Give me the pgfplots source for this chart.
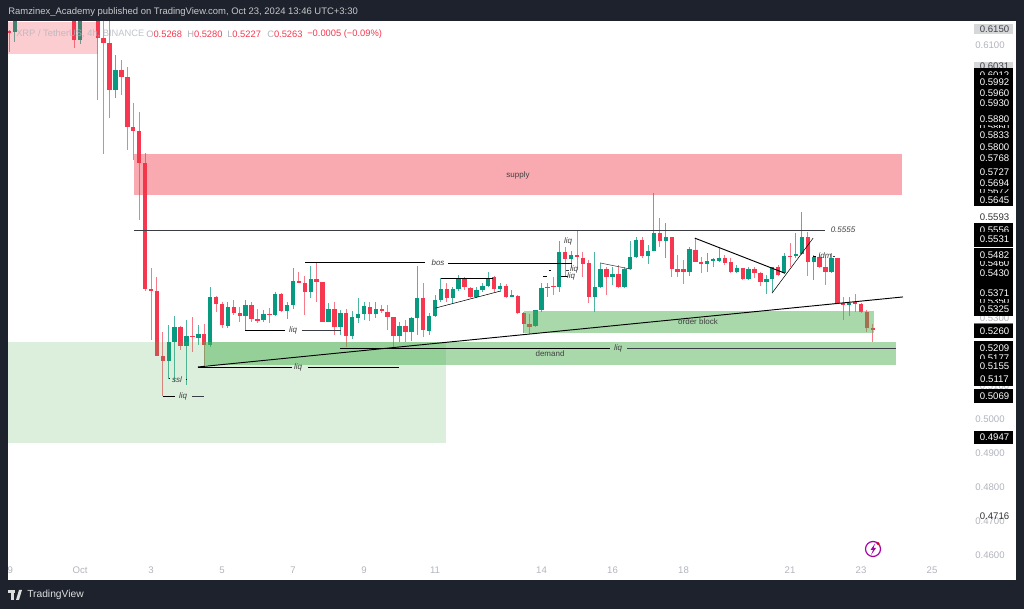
\documentclass[border=0pt]{standalone}
\usepackage{fontspec}
\setmainfont{Liberation Sans}
\usepackage{pgfplots}
\usepackage{pgfplotstable}
\pgfplotsset{compat=1.18}
\definecolor{frame}{HTML}{1E222D}
\definecolor{cred}{HTML}{F7374F}
\definecolor{cgreen}{HTML}{089981}
\definecolor{wred}{HTML}{F77A88}
\definecolor{wgreen}{HTML}{4FB5A3}
\definecolor{zred}{HTML}{F23645}
\definecolor{zgreen}{HTML}{4CAF50}
\definecolor{grayt}{HTML}{B2B5BE}
\definecolor{ln}{HTML}{3A3D45}
\pgfplotstableread{
n o h l c
-6 .6141 .6144 .6079 .6135
5 .6300 .6350 .6091 .6114
9 .6300 .6350 .5938 .6120
10 .6120 .6350 .5779 .6106
11 .6106 .6350 .5885 .5967
13 .6026 .6056 .5953 .6006
14 .6006 .6035 .5791 .5859
15 .5859 .5929 .5762 .5847
16 .5847 .5903 .5585 .5753
17 .5753 .5782 .5376 .5382
18 .5382 .5444 .5232 .5376
19 .5376 .5417 .5185 .5185
20 .5185 .5256 .5068 .5170
23 .5270 .5273 .5203 .5215
25 .5244 .5300 .5197 .5241
27 .5250 .5279 .5156 .5218
29 .5359 .5362 .5315 .5338
30 .5338 .5344 .5267 .5276
32 .5329 .5350 .5306 .5312
33 .5312 .5329 .5285 .5303
35 .5335 .5344 .5285 .5294
36 .5294 .5323 .5282 .5288
38 .5309 .5326 .5282 .5306
40 .5367 .5370 .5315 .5317
43 .5406 .5432 .5400 .5400
44 .5400 .5420 .5306 .5373
46 .5412 .5459 .5344 .5403
47 .5403 .5403 .5285 .5285
49 .5323 .5344 .5247 .5270
51 .5312 .5323 .5212 .5244
55 .5329 .5344 .5288 .5309
57 .5323 .5335 .5312 .5317
58 .5315 .5335 .5262 .5300
59 .5300 .5300 .5209 .5244
61 .5273 .5291 .5226 .5256
64 .5356 .5400 .5241 .5262
68 .5382 .5400 .5344 .5356
71 .5415 .5417 .5379 .5388
72 .5385 .5388 .5356 .5359
76 .5417 .5420 .5373 .5382
78 .5391 .5397 .5356 .5359
80 .5362 .5365 .5309 .5312
81 .5312 .5315 .5253 .5279
82 .5279 .5309 .5250 .5270
86 .5391 .5417 .5365 .5388
88 .5491 .5506 .5417 .5470
90 .5482 .5556 .5438 .5476
91 .5473 .5491 .5417 .5456
92 .5459 .5467 .5341 .5359
95 .5441 .5447 .5365 .5417
97 .5426 .5453 .5385 .5388
101 .5526 .5535 .5473 .5479
104 .5547 .5591 .5506 .5523
106 .5535 .5535 .5417 .5441
107 .5441 .5482 .5417 .5432
108 .5441 .5467 .5397 .5432
110 .5497 .5532 .5462 .5462
111 .5462 .5476 .5429 .5456
115 .5473 .5482 .5453 .5459
116 .5462 .5473 .5429 .5432
118 .5444 .5444 .5409 .5412
120 .5441 .5447 .5415 .5429
121 .5429 .5432 .5391 .5403
124 .5447 .5453 .5420 .5423
126 .5479 .5517 .5447 .5476
129 .5535 .5550 .5420 .5462
131 .5476 .5488 .5444 .5447
132 .5447 .5476 .5394 .5432
134 .5473 .5473 .5341 .5341
135 .5341 .5359 .5291 .5335
137 .5344 .5367 .5315 .5338
138 .5338 .5341 .5312 .5315
139 .5315 .5320 .5256 .5267
140 .5268 .5280 .5227 .5263
}\redt
\pgfplotstableread{
n o h l c
-5 .6138 .6350 .6109 .6300
6 .6114 .6350 .6103 .6300
12 .5967 .6070 .5944 .6026
21 .5170 .5276 .5118 .5226
22 .5226 .5303 .5109 .5270
24 .5215 .5291 .5100 .5244
26 .5238 .5276 .5218 .5250
28 .5218 .5388 .5212 .5359
31 .5273 .5344 .5267 .5329
34 .5303 .5350 .5262 .5335
37 .5291 .5320 .5285 .5309
39 .5306 .5373 .5303 .5367
41 .5317 .5344 .5294 .5335
42 .5335 .5444 .5323 .5406
45 .5373 .5450 .5356 .5412
48 .5285 .5341 .5285 .5323
50 .5270 .5320 .5247 .5312
52 .5244 .5317 .5235 .5300
53 .5297 .5356 .5282 .5309
54 .5309 .5344 .5291 .5332
56 .5309 .5344 .5297 .5323
60 .5244 .5285 .5226 .5273
62 .5256 .5300 .5229 .5297
63 .5297 .5450 .5247 .5356
65 .5259 .5312 .5247 .5303
66 .5303 .5365 .5300 .5350
67 .5350 .5415 .5344 .5382
69 .5356 .5388 .5341 .5382
70 .5382 .5423 .5376 .5415
73 .5359 .5388 .5356 .5379
74 .5379 .5400 .5373 .5391
75 .5391 .5432 .5388 .5415
77 .5382 .5400 .5373 .5391
79 .5359 .5379 .5359 .5365
83 .5273 .5320 .5270 .5320
84 .5320 .5400 .5315 .5385
85 .5385 .5400 .5359 .5388
87 .5388 .5523 .5373 .5491
89 .5470 .5494 .5444 .5482
93 .5359 .5491 .5315 .5388
94 .5388 .5459 .5385 .5441
96 .5417 .5447 .5394 .5426
98 .5388 .5447 .5385 .5441
99 .5441 .5523 .5438 .5476
100 .5476 .5535 .5473 .5526
102 .5479 .5512 .5456 .5494
103 .5494 .5665 .5494 .5547
105 .5523 .5576 .5473 .5535
109 .5432 .5506 .5420 .5500
112 .5456 .5488 .5432 .5465
113 .5465 .5473 .5447 .5470
114 .5465 .5503 .5462 .5473
117 .5432 .5453 .5429 .5444
119 .5412 .5447 .5409 .5441
122 .5403 .5423 .5367 .5412
123 .5412 .5447 .5373 .5447
125 .5429 .5488 .5426 .5479
127 .5479 .5547 .5473 .5485
128 .5485 .5609 .5482 .5535
130 .5462 .5482 .5409 .5476
133 .5432 .5488 .5429 .5473
136 .5335 .5359 .5303 .5341
}\greent
\newcommand\pf{\fontsize{7.2}{8}\selectfont}
\newcommand\lf{\fontsize{6}{7}\selectfont}
% black price tag, text white, in pixel coordinates
\newcommand\pb[2]{\fill[black] (974,#2-6.5) rectangle (1013,#2+6.5);
  \node[text=white,font=\pf,inner sep=0pt] at (994.5,#2) {#1};}
\newcommand\il[3]{\node[text=black!75,font=\lf\itshape,inner sep=0pt] at (#1,#2) {#3};}
\newcommand\rl[3]{\node[text=black!75,font=\lf,inner sep=0pt] at (#1,#2) {#3};}
\begin{document}
\begin{tikzpicture}
\useasboundingbox (-6pt,-21.75pt) rectangle (762pt,435pt);
\fill[frame] (-6pt,-21.75pt) rectangle (762pt,435pt);
\begin{axis}[
  scale only axis, width=756pt, height=418.875pt,
  xmin=-6.168, xmax=164.19, ymin=0.45265, ymax=0.61691,
  axis background/.style={fill=white},
  axis line style={draw=none}, major tick length=0pt,
  xtick={-5.8,6,18,30,42,54,66,84,96,108,126,138,150},
  xticklabels={9,Oct,3,5,7,9,11,14,16,18,21,23,25},
  xticklabel style={anchor=center,yshift=7.5pt,font=\pf,text=grayt},
  ytick={0.61,0.50,0.49,0.48,0.47,0.46},
  yticklabel pos=right,
  yticklabel style={anchor=east,xshift=-5pt,font=\pf,text=grayt,
    /pgf/number format/fixed,/pgf/number format/fixed zerofill,
    /pgf/number format/precision=4,/pgf/number format/assume math mode=true},
  scaled y ticks=false,
  cycle list={{draw=ln,line width=0.7pt,solid,mark=none}},
  clip=true,
]
% wicks
\addplot[draw=none,forget plot,error bars/.cd,y dir=both,y explicit,error mark=none,
  error bar style={draw=wred,line width=0.7pt}]
  table[x=n,y=o,y error plus expr=\thisrow{h}-\thisrow{o},y error minus expr=\thisrow{o}-\thisrow{l}]{\redt};
\addplot[draw=none,forget plot,error bars/.cd,y dir=both,y explicit,error mark=none,
  error bar style={draw=wgreen,line width=0.7pt}]
  table[x=n,y=o,y error plus expr=\thisrow{h}-\thisrow{o},y error minus expr=\thisrow{o}-\thisrow{l}]{\greent};
% bodies
\addplot[draw=none,forget plot,error bars/.cd,y dir=both,y explicit,error mark=none,
  error bar style={draw=cred,line width=3.3pt}]
  table[x=n,y=o,y error plus expr=0,y error minus expr=\thisrow{o}-\thisrow{c}]{\redt};
\addplot[draw=none,forget plot,error bars/.cd,y dir=both,y explicit,error mark=none,
  error bar style={draw=cgreen,line width=3.3pt}]
  table[x=n,y=o,y error plus expr=\thisrow{c}-\thisrow{o},y error minus expr=0]{\greent};
% zones
\addplot[fill=zred,fill opacity=.25,draw=none,forget plot] coordinates {(-6.168,.6169)(9,.6169)(9,.6074)(-6.168,.6074)} -- cycle;
\addplot[fill=zred,fill opacity=.42,draw=none,forget plot] coordinates {(15.13,.5779)(144.9,.5779)(144.9,.5659)(15.13,.5659)} -- cycle;
\addplot[fill=zgreen,fill opacity=.2,draw=none,forget plot] coordinates {(-6.168,.5226)(67.9,.5226)(67.9,.4929)(-6.168,.4929)} -- cycle;
\addplot[fill=zgreen,fill opacity=.48,draw=none,forget plot] coordinates {(27,.5226)(143.9,.5226)(143.9,.5159)(27,.5159)} -- cycle;
\addplot[fill=zgreen,fill opacity=.48,draw=none,forget plot] coordinates {(81,.5318)(140.2,.5318)(140.2,.5253)(81,.5253)} -- cycle;
% lines
\addplot coordinates {(15.13,.5555)(131.9,.5555)};
\addplot coordinates {(44.03,.5459)(64.3,.5459)};
\addplot coordinates {(68.2,.5459)(89.15,.5459)};
\addplot coordinates {(33.9,.5262)(40.65,.5262)};
\addplot coordinates {(43.5,.5262)(50.1,.5262)};
\addplot coordinates {(25.9,.5153)(41.8,.5153)};
\addplot coordinates {(44.5,.5153)(59.9,.5153)};
\addplot coordinates {(20,.5068)(22.05,.5068)};
\addplot coordinates {(24.9,.5068)(27,.5068)};
\addplot coordinates {(21.04,.5118)(21.2,.5118)};
\addplot coordinates {(23.9,.5118)(24.1,.5118)};
\addplot coordinates {(49.94,.5209)(95.6,.5209)};
\addplot coordinates {(98.45,.5209)(143.9,.5209)};
\addplot coordinates {(25.94,.5153)(145.09,.5359)};
\addplot coordinates {(66,.5326)(77,.5376)};
\addplot coordinates {(67,.5415)(75.8,.5415)};
\addplot coordinates {(93.9,.5459)(99,.5441)};
\addplot coordinates {(109.9,.5532)(125.1,.5429)};
\addplot coordinates {(122.95,.5370)(129.9,.5532)};
\addplot coordinates {(85.2,.5438)(85.6,.5438)};
\addplot coordinates {(88.2,.5438)(88.6,.5438)};
\addplot coordinates {(84.3,.5420)(84.9,.5420)};
\addplot coordinates {(87.3,.5420)(88.4,.5420)};
\addplot coordinates {(129.9,.5479)(130.4,.5479)};
\addplot coordinates {(133.2,.5479)(133.6,.5479)};
\end{axis}
\begin{scope}[x=0.75pt,y=-0.75pt,shift={(-6pt,435pt)}]
% header
\node[anchor=west,text=frame!25!white,font=\fontsize{7.1}{9}\selectfont,inner sep=0pt] at (8,12)
  {Ramzinex\_Academy published on TradingView.com, Oct 23, 2024 13:46 UTC+3:30};
\node[anchor=west,text=grayt,font=\fontsize{7}{8}\selectfont,inner sep=0pt,opacity=.8] at (16,34) {XRP / TetherUS, 4h, BINANCE};
\foreach \x/\a/\b in {146/O/0.5268,187/H/0.5280,227/L/0.5227,267/C/0.5263}{
  \node[anchor=west,font=\fontsize{7}{8}\selectfont,inner sep=0pt] at (\x,34) {\textcolor{grayt}{\a}\textcolor{cred}{\b}};}
\node[anchor=west,text=cred,font=\fontsize{7}{8}\selectfont,inner sep=0pt] at (307,34) {−0.0005 (−0.09\%)};
% drawings' text
\rl{518}{175}{supply}
\il{843}{230}{0.5555}
\il{438}{263}{bos}
\il{293}{330}{liq}
\il{298}{367}{liq}
\il{183}{396}{liq}
\il{177}{380}{ssl}
\il{618}{348}{liq}
\il{568}{241}{liq}
\il{574}{269}{liq}
\il{571}{276}{liq}
\il{825}{256}{idm}
\rl{698}{322}{order block}
\rl{550}{354}{demand}
% price scale
\fill[frame!18!white] (974,24) rectangle (1013,34);
\node[text=frame!85!white,font=\pf,inner sep=0pt] at (994.5,29) {0.6150};
\fill[frame!18!white] (974,62) rectangle (1013,69);
\node[text=frame!85!white,font=\pf,inner sep=0pt] at (994.5,66) {0.6031};
\node[text=black!80,font=\pf,inner sep=0pt] at (994.5,217) {0.5593};
\node[text=black!80,font=\pf,inner sep=0pt] at (994.5,516) {0.4716};
\node[text=grayt,font=\pf,inner sep=0pt] at (994.5,318) {0.5300};
\node[text=grayt,font=\pf,inner sep=0pt] at (994.5,386) {0.5100};
\fill[black] (974,68.5) rectangle (1013,206);
\pb{0.6012}{75}\pb{0.5860}{127}\pb{0.5672}{191}
\pb{0.5992}{82}\pb{0.5960}{93}\pb{0.5930}{103}\pb{0.5880}{119}
\pb{0.5833}{135}\pb{0.5800}{147}\pb{0.5768}{158}\pb{0.5727}{172}\pb{0.5694}{183}\pb{0.5645}{200}
\fill[black] (974,223) rectangle (1013,247);
\pb{0.5556}{230}\pb{0.5531}{239}
\fill[black] (974,248) rectangle (1013,316);
\pb{0.5460}{263}\pb{0.5350}{301}
\pb{0.5482}{255}\pb{0.5430}{273}\pb{0.5371}{293}\pb{0.5325}{309.5}
\fill[black] (974,323) rectangle (1013,338);
\fill[cred] (974,323) rectangle (1013,324);
\node[text=white,font=\pf,inner sep=0pt] at (994.5,331) {0.5260};
\fill[black] (974,341) rectangle (1013,386);
\pb{0.5177}{358}
\pb{0.5209}{348}\pb{0.5155}{366}\pb{0.5117}{379}
\fill[black] (974,389) rectangle (1013,403);
\node[text=white,font=\pf,inner sep=0pt] at (994.5,396) {0.5069};
\fill[black] (974,431) rectangle (1013,444);
\node[text=white,font=\pf,inner sep=0pt] at (994.5,437.5) {0.4947};
% lightning icon
\draw[color=violet!70!magenta,line width=0.9pt] (873,549) circle (7.5);
\fill[violet!70!magenta] (875,543.5) -- (870.5,550) -- (873,550) -- (871,555) -- (876,548) -- (873.5,548) -- cycle;
\fill[red!85!black] (878,543.5) circle (1.7);
% footer
\fill[white!85!frame] (8,590) rectangle (15,593);
\fill[white!85!frame] (11,590) rectangle (14,600);
\fill[white!85!frame] (16,600) -- (19,590) -- (22,590) -- (19,600) -- cycle;
\node[anchor=west,text=white!85!frame,font=\fontsize{7.7}{9}\selectfont,inner sep=0pt] at (27,595) {TradingView};
\end{scope}
\end{tikzpicture}
\end{document}
